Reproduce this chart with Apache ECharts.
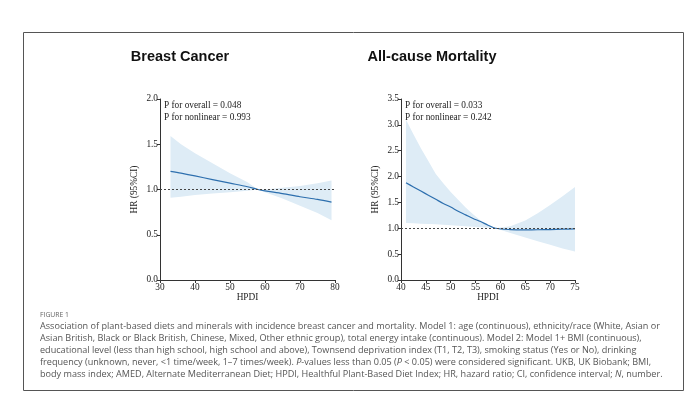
<!DOCTYPE html>
<html><head><meta charset="utf-8">
<script src="https://cdn.jsdelivr.net/npm/echarts@6/dist/echarts.min.js"></script>
<style>html,body{margin:0;padding:0;background:#fff}#c{width:696px;height:409px}</style>
</head><body><div id="c"></div>
<script>
// Breast cancer panel
const bcX     = [33, 36, 40, 45, 50, 55, 58, 60, 65, 70, 75, 79];
const bcHR    = [1.20, 1.18, 1.15, 1.11, 1.07, 1.03, 1.00, 0.985, 0.955, 0.92, 0.89, 0.86];
const bcUpper = [1.59, 1.50, 1.40, 1.29, 1.18, 1.08, 1.00, 1.00, 1.02, 1.04, 1.07, 1.10];
const bcLower = [0.91, 0.92, 0.94, 0.955, 0.97, 0.985, 1.00, 0.97, 0.90, 0.82, 0.74, 0.66];
// All-cause mortality panel
const mX     = [41, 42.5, 44, 45.5, 47, 48.5, 50, 51.5, 53, 54.5, 56, 57.5, 59, 62, 65, 67.5, 70, 72.5, 75];
const mHR    = [1.88, 1.80, 1.72, 1.64, 1.56, 1.48, 1.41, 1.33, 1.26, 1.19, 1.13, 1.06, 1.00, 0.975, 0.97, 0.972, 0.975, 0.982, 0.99];
const mUpper = [3.10, 2.82, 2.55, 2.30, 2.05, 1.87, 1.70, 1.55, 1.40, 1.27, 1.15, 1.07, 1.00, 1.04, 1.15, 1.29, 1.45, 1.62, 1.80];
const mLower = [1.10, 1.095, 1.09, 1.085, 1.08, 1.07, 1.06, 1.05, 1.04, 1.03, 1.02, 1.01, 1.00, 0.91, 0.82, 0.75, 0.68, 0.61, 0.55];
// Ticks / texts
const titles = ['Breast Cancer', 'All-cause Mortality'];
const pTexts = [['P for overall = 0.048', 'P for nonlinear = 0.993'], ['P for overall = 0.033', 'P for nonlinear = 0.242']];
const xRanges = [[30, 80, 10], [40, 75, 5]];
const yRanges = [[0, 2, 0.5], [0, 3.5, 0.5]];
const xName = 'HPDI';
const yName = 'HR (95%CI)';
const figLabel = 'FIGURE 1';
const captionLines = [
  'Association of plant-based diets and minerals with incidence breast cancer and mortality. Model 1: age (continuous), ethnicity/race (White, Asian or',
  'Asian British, Black or Black British, Chinese, Mixed, Other ethnic group), total energy intake (continuous). Model 2: Model 1+ BMI (continuous),',
  'educational level (less than high school, high school and above), Townsend deprivation index (T1, T2, T3), smoking status (Yes or No), drinking',
  'frequency (unknown, never, <1 time/week, 1–7 times/week). {i|P}-values less than 0.05 ({i|P} < 0.05) were considered significant. UKB, UK Biobank; BMI,',
  'body mass index; AMED, Alternate Mediterranean Diet; HPDI, Healthful Plant-Based Diet Index; HR, hazard ratio; CI, confidence interval; {i|N}, number.'
];

const serif = '"Liberation Serif", "Times New Roman", serif';
const LINE = '#2d6fae', BAND = '#deecf6', AX = '#333';
const grids = [
  {left: 160, top: 99, width: 175, height: 181},
  {left: 401, top: 99, width: 174, height: 181}
];
const panels = [[bcX, bcHR, bcUpper, bcLower], [mX, mHR, mUpper, mLower]];

const xAxis = [], yAxis = [], series = [], graphic = [];
grids.forEach((g, i) => {
  xAxis.push({
    type: 'value', gridIndex: i, min: xRanges[i][0], max: xRanges[i][1], interval: xRanges[i][2],
    name: xName, nameLocation: 'middle', nameGap: 12,
    nameTextStyle: {fontFamily: serif, fontSize: 9.3, color: '#222'},
    axisLine: {show: true, lineStyle: {color: AX, width: 1}},
    axisTick: {show: true, length: 3, lineStyle: {color: AX}},
    axisLabel: {fontFamily: serif, fontSize: 9.3, color: '#222', margin: 3},
    splitLine: {show: false}
  });
  yAxis.push({
    type: 'value', gridIndex: i, min: yRanges[i][0], max: yRanges[i][1], interval: yRanges[i][2],
    name: yName, nameLocation: 'middle', nameGap: 21,
    nameTextStyle: {fontFamily: serif, fontSize: 9.3, color: '#222'},
    axisLine: {show: true, lineStyle: {color: AX, width: 1}},
    axisTick: {show: true, length: 3, lineStyle: {color: AX}},
    axisLabel: {fontFamily: serif, fontSize: 9.3, color: '#222', margin: 2, formatter: v => v.toFixed(1)},
    splitLine: {show: false}
  });
  const [xs, hr, up, lo] = panels[i];
  const poly = xs.map((x, k) => [x, up[k]]).concat(xs.map((x, k) => [x, lo[k]]).reverse());
  series.push({
    type: 'custom', xAxisIndex: i, yAxisIndex: i, silent: true, z: 1,
    data: [0],
    renderItem: (params, api) => ({
      type: 'polygon',
      shape: {points: poly.map(p => api.coord(p))},
      style: {fill: BAND}
    })
  });
  series.push({
    type: 'line', xAxisIndex: i, yAxisIndex: i, smooth: 0.3, symbol: 'none', z: 3,
    data: xs.map((x, k) => [x, hr[k]]),
    lineStyle: {color: LINE, width: 1.2},
    markLine: {
      silent: true, symbol: 'none', label: {show: false},
      lineStyle: {color: '#444', type: [2, 2], width: 1},
      data: [{yAxis: 1}]
    }
  });
  graphic.push({
    type: 'text', left: g.left + 4, top: 100,
    style: {text: pTexts[i].join('\n'), font: '9.3px ' + serif, fill: '#222', lineHeight: 11.5}
  });
});
graphic.push({type: 'text', x: 180, y: 57, style: {text: titles[0], font: 'bold 14.5px Arial, "Liberation Sans", sans-serif', fill: '#111', align: 'center', verticalAlign: 'middle'}});
graphic.push({type: 'text', x: 432, y: 57, style: {text: titles[1], font: 'bold 14.5px Arial, "Liberation Sans", sans-serif', fill: '#111', align: 'center', verticalAlign: 'middle'}});
graphic.push({type: 'rect', shape: {x: 23.5, y: 32.5, width: 660, height: 358}, style: {fill: null, stroke: '#555', lineWidth: 1}, z: -1});
graphic.push({type: 'text', x: 40, y: 315, style: {text: figLabel, font: '6.8px "Open Sans", sans-serif', fill: '#666', verticalAlign: 'middle'}});
captionLines.forEach((t, k) => {
  graphic.push({type: 'text', x: 40, y: 326 + k * 12, style: {
    text: t, fontFamily: '"Open Sans", sans-serif', fontSize: 9.1, fill: '#555', verticalAlign: 'middle',
    rich: {i: {fontFamily: '"Open Sans", sans-serif', fontSize: 9.1, fontStyle: 'italic', fill: '#555'}}
  }});
});

const chart = echarts.init(document.getElementById('c'), null, {renderer: 'canvas'});
chart.setOption({
  animation: false,
  grid: grids, xAxis, yAxis, series, graphic
});
</script></body></html>
